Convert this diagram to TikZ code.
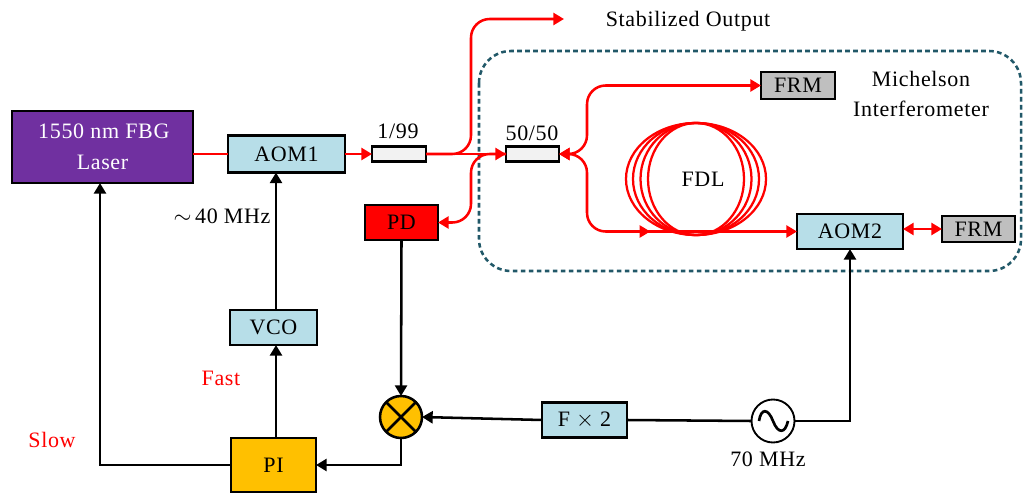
\documentclass[tikz,border=0pt]{standalone}
\usepackage{fontspec}
\setmainfont[LetterSpace=3]{Liberation Serif}
\usetikzlibrary{arrows.meta,decorations.markings}
\definecolor{laserpurple}{HTML}{7030A0}
\definecolor{aomblue}{HTML}{B7DEE8}
\definecolor{piorange}{HTML}{FFC000}
\definecolor{frmgray}{HTML}{BFBFBF}
\definecolor{couplergray}{HTML}{F2F2F2}
\definecolor{dashteal}{HTML}{215868}
\tikzset{
    blockbox/.style={draw=black, line width=1.9pt, inner sep=0pt, outer sep=0pt, align=center, font=\fontsize{16.5}{23}\selectfont},
    caption/.style={inner sep=0pt, align=center, font=\fontsize{16.5}{23}\selectfont},
    sig/.style={line width=1.9pt, -{Triangle[length=8pt,width=9pt]}},
    fibre/.style={draw=red, line width=1.9pt, rounded corners=14pt},
    fibrehead/.style={-{Triangle[length=8pt,width=9pt]}},
    bothhead/.style={{Triangle[length=8pt,width=9pt]}-{Triangle[length=8pt,width=9pt]}},
    coil/.style={draw=red, line width=1.7pt},
    arrow inside/.style={postaction={decorate,decoration={markings,
        mark=at position #1 with {\arrow{Triangle[length=8pt,width=9pt]}}}}},
}
\begin{document}
\begin{tikzpicture}[x=0.75pt,y=-0.75pt]
        \useasboundingbox (0,0) rectangle (1023,495);
        %interferometer outline
        \draw[draw=dashteal, line width=1.9pt, dash pattern=on 3.5pt off 2.5pt, rounded corners=24pt] (479,51) rectangle (1021,271);
        %fibre delay coil
        \draw[coil] (696,179) ellipse [x radius=70, y radius=56];
        \draw[coil] (696,179) ellipse [x radius=63, y radius=56];
        \draw[coil] (696,179) ellipse [x radius=55.5, y radius=56];
        \draw[coil] (696,179) ellipse [x radius=48, y radius=56];
        \node[caption] (fdl) at (703,179) {FDL};
        %draw the blocks
        \node[blockbox, fill=laserpurple, text=white, minimum width={181*0.75pt}, minimum height={72*0.75pt}] (laser) at (102.5,147) {\hspace*{2pt}1550 nm FBG\\Laser};
        \node[blockbox, fill=aomblue, minimum width={117*0.75pt}, minimum height={37*0.75pt}] (aom1) at (286.5,154) {AOM1};
        \node[blockbox, fill=couplergray, minimum width={54*0.75pt}, minimum height={15*0.75pt}] (tap) at (399,154) {};
        \node[blockbox, fill=couplergray, minimum width={53*0.75pt}, minimum height={15*0.75pt}] (split) at (532.5,154) {};
        \node[blockbox, fill=red, minimum width={73*0.75pt}, minimum height={35*0.75pt}] (pd) at (401.5,222.5) {PD};
        \node[blockbox, fill=frmgray, minimum width={74*0.75pt}, minimum height={27*0.75pt}] (frmtop) at (798,85.5) {FRM};
        \node[blockbox, fill=aomblue, minimum width={106*0.75pt}, minimum height={35*0.75pt}] (aom2) at (850,231.5) {AOM2};
        \node[blockbox, fill=frmgray, minimum width={73*0.75pt}, minimum height={26*0.75pt}] (frmright) at (978.5,229) {FRM};
        \node[blockbox, fill=aomblue, minimum width={87*0.75pt}, minimum height={35*0.75pt}] (vco) at (273.5,327.5) {VCO};
        \node[blockbox, fill=piorange, minimum width={85*0.75pt}, minimum height={54*0.75pt}] (pi) at (273.5,465) {PI};
        \node[blockbox, fill=aomblue, minimum width={85*0.75pt}, minimum height={35*0.75pt}] (dbl) at (584.5,420) {F $\times$ 2};
        %mixer and oscillator
        \node[blockbox, circle, fill=piorange, minimum size={42*0.75pt}] (mix) at (401,417) {};
        \draw[line width=1.9pt] (mix.north west) -- (mix.south east);
        \draw[line width=1.9pt] (mix.north east) -- (mix.south west);
        \node[blockbox, circle, fill=white, line width=1.4pt, minimum size={43*0.75pt}] (osc) at (773,421) {};
        \draw[line width=2pt] (759,421) .. controls (761,408) and (768,408) .. (773,421) .. controls (778,434) and (785,434) .. (788,421);
        %labels
        \node[caption] (stab) at (688,21) {Stabilized Output};
        \node[caption] (mich) at (921,94) {Michelson\\Interferometer};
        \node[caption] (tapl) at (398,131) {1/99};
        \node[caption] (splitl) at (532,133) {50/50};
        \node[caption] (vcol) at (222,216) {$\sim$\,40 MHz};
        \node[caption, text=red] (fast) at (221,378) {Fast};
        \node[caption, text=red] (slow) at (52,440) {Slow};
        \node[caption] (oscl) at (768,459) {70 MHz};
        %fibre connections
        \coordinate (stabend) at (564,19);
        \coordinate (tapbend) at (471,154);
        \coordinate (leftbend) at (587,154);
        \draw[fibre] (laser.east |- aom1.west) -- (aom1.west);
        \draw[fibre, fibrehead] (aom1.east) -- (tap.west);
        \draw[fibre, fibrehead] (tap.east) -- (split.west);
        \draw[fibre, fibrehead] (tap.east) -- (tapbend) -- (tapbend |- stabend) -- (stabend);
        \draw[fibre, fibrehead] (split.west) -- (tapbend) -- (tapbend |- pd.east) -- (pd.east);
        \draw[fibre, bothhead] (split.east) -- (leftbend) -- (leftbend |- frmtop.west) -- (frmtop.west);
        \draw[fibre, bothhead, arrow inside=0.51] (split.east) -- (leftbend) -- (leftbend |- aom2.west) -- (aom2.west);
        \draw[draw=red, line width=1.9pt, bothhead] (aom2.east |- frmright.west) -- (frmright.west);
        %electrical connections
        \coordinate (fastx) at (276,400);
        \coordinate (slowx) at (100,400);
        \draw[sig] (vco.north -| fastx) -- (aom1.south -| fastx);
        \draw[sig] (pi.north -| fastx) -- (vco.south -| fastx);
        \draw[sig] (pi.west) -- (pi.west -| slowx) -- (laser.south -| slowx);
        \draw[sig] (pd.south) -- (mix.north);
        \draw[sig] (mix.south) |- (pi.east);
        \draw[sig] (dbl.west) -- (mix.east);
        \draw[line width=1.9pt] (osc.west) -- (dbl.east);
        \draw[sig] (osc.east) -| (aom2.south);
    \end{tikzpicture}
\end{document}
